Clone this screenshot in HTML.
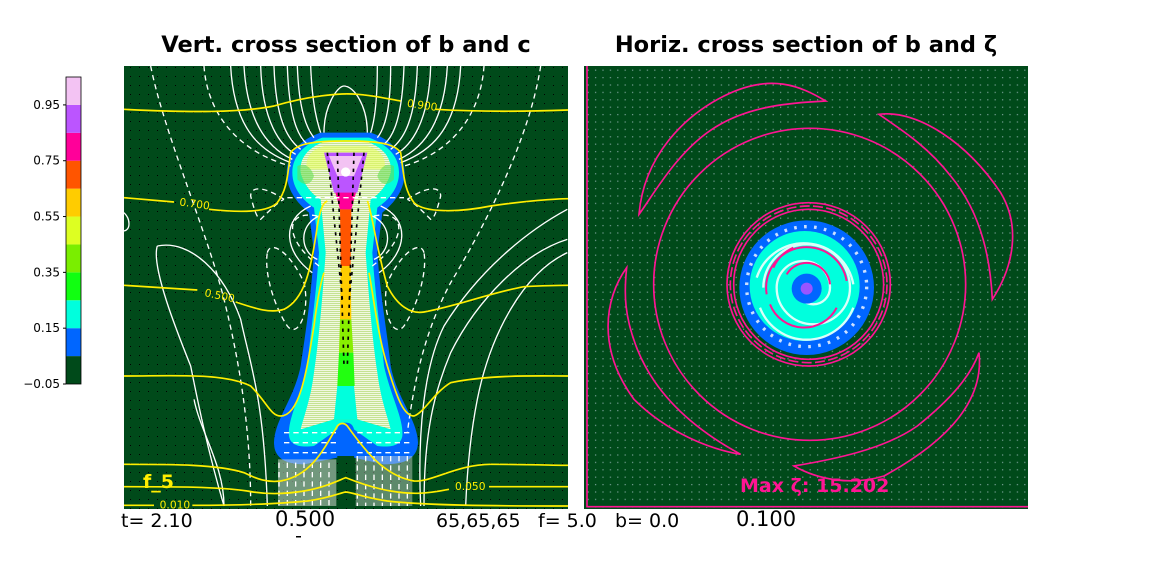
<!DOCTYPE html>
<html><head><meta charset="utf-8"><style>
html,body{margin:0;padding:0;background:#fff;width:1152px;height:576px;overflow:hidden}
svg{display:block}
text{font-family:"DejaVu Sans","Liberation Sans",sans-serif}
</style></head><body>
<svg id="fig" width="1152" height="576" viewBox="0 0 1152 576">
<defs>
<pattern id="dotsB" width="9" height="9" patternUnits="userSpaceOnUse"><rect x="4" y="4" width="1" height="1" fill="#000"/></pattern>
<pattern id="dotsW" width="7.4" height="7.4" patternUnits="userSpaceOnUse"><rect x="3" y="3" width="1.2" height="1.2" fill="#cde"/></pattern>
<pattern id="hatch" width="6" height="6" patternUnits="userSpaceOnUse"><rect width="6" height="6" fill="#f0f8e0"/><rect y="3" width="6" height="1.5" fill="#9c4"/></pattern>
<clipPath id="clipL"><rect x="124" y="66" width="444" height="443"/></clipPath>
<clipPath id="clipR"><rect x="584" y="66" width="444" height="443"/></clipPath>
</defs>
<text x="346" y="52" text-anchor="middle" font-size="22.5" font-weight="bold">Vert. cross section of b and c</text>
<text x="806" y="52" text-anchor="middle" font-size="22.5" font-weight="bold">Horiz. cross section of b and ζ</text>

<g id="colorbar"></g>

<g clip-path="url(#clipL)">
<rect x="124" y="66" width="444" height="443" fill="#004a1a"/>
<rect x="124" y="66" width="444" height="443" fill="url(#dotsB)"/>
<g transform="translate(124,66) scale(0.33333)">
<path fill="#0066ff" d="M665,200 L740,200 C800,220 840,260 842,320 C842,380 800,420 775,440 L760,560 C770,700 790,800 800,900 C820,1000 880,1060 882,1130 C880,1180 840,1195 780,1195 L690,1175 L690,1170 L640,1170 L640,1175 L540,1195 C490,1195 450,1180 450,1130 C452,1060 510,1000 530,900 C545,800 560,700 570,560 L555,440 C530,420 488,380 488,320 C490,260 530,220 590,200 Z"/>
<path fill="#00ffdd" d="M665,215 L735,215 C790,235 825,270 825,320 C825,370 790,405 760,425 L745,560 C755,700 770,800 780,900 C800,990 840,1060 835,1110 C830,1140 800,1145 760,1140 L690,1090 L640,1090 L570,1140 C530,1145 500,1140 495,1110 C490,1060 530,990 550,900 C560,800 575,700 585,560 L570,425 C540,405 505,370 505,320 C505,270 540,235 595,215 Z"/>
<path fill="url(#hatch)" d="M665,228 L730,228 C780,245 805,280 800,320 C790,360 760,390 740,400 L725,560 C735,700 745,820 760,920 C770,1000 790,1050 800,1090 L700,1060 L630,1060 L530,1090 C540,1050 560,1000 570,920 C585,820 595,700 605,560 L590,400 C570,390 540,360 530,320 C525,280 550,245 600,228 Z"/>
<path fill="#e8ff55" opacity="0.55" d="M600,240 L730,240 C770,250 790,280 780,310 L550,310 C540,280 560,250 600,240 Z"/>
<path fill="#66dd55" opacity="0.6" d="M520,300 C540,290 560,300 570,330 C560,360 540,360 520,340 Z M810,300 C790,290 770,300 760,330 C770,360 790,360 810,340 Z"/>
<path fill="#00ffdd" d="M640,960 L690,960 L700,1060 L630,1060 Z"/>
<path fill="#22ff10" d="M645,860 L688,860 L692,960 L640,960 Z"/>
<path fill="#88ee00" d="M648,760 L682,760 L688,860 L645,860 Z"/>
<path fill="#ffcc00" d="M650,600 L680,600 L682,760 L648,760 Z"/>
<path fill="#ff5500" d="M648,430 L682,430 L680,600 L650,600 Z"/>
<path fill="#ff0099" d="M620,330 L710,330 L682,430 L648,430 Z"/>
<path fill="#bb55ff" d="M600,260 L730,260 L700,380 L630,380 Z"/>
<path fill="#f3c3f3" d="M615,270 L715,270 L690,330 L640,330 Z"/>
<circle cx="665" cy="318" r="14" fill="#fff"/>
<path fill="#0066ff" d="M640,1170 L640,1090 C645,1070 660,1070 665,1070 C670,1070 685,1070 690,1090 L690,1170 Z"/>
<rect x="462" y="1180" width="175" height="140" fill="#cfd8cf" opacity="0.55"/>
<rect x="695" y="1170" width="170" height="150" fill="#cfd8cf" opacity="0.45"/>
<g stroke="#000" stroke-width="5" fill="none" stroke-dasharray="10 14">
<path d="M610,260 L655,700 M720,260 L676,700 M640,260 L660,900 M690,260 L670,900"/>
</g>
<g stroke="#fff" stroke-width="4" fill="none">
<path d="M320,0 C330,200 420,260 500,290"/><path d="M360,0 C370,180 440,250 505,280"/>
<path d="M410,0 C415,170 470,240 515,265"/><path d="M450,0 C455,160 490,220 530,250"/>
<path d="M490,0 C495,150 520,210 550,235"/><path d="M520,0 C525,140 550,190 570,215"/>
<path d="M1010,0 C1000,200 910,260 830,290"/><path d="M970,0 C960,180 890,250 825,280"/>
<path d="M920,0 C915,170 860,240 815,265"/><path d="M880,0 C875,160 840,220 800,250"/>
<path d="M840,0 C835,150 810,210 780,235"/><path d="M800,0 C800,140 780,190 760,215"/>
<path d="M760,0 C760,120 750,170 740,200"/><path d="M560,0 C565,120 580,170 590,200"/>
<path d="M600,200 C600,120 640,60 660,60 C690,60 730,120 730,200"/>
<path d="M585,450 C520,480 530,560 580,580"/><path d="M745,450 C810,480 800,560 750,580"/>
<path d="M560,420 C470,460 480,560 565,620"/><path d="M770,420 C860,460 850,560 765,620"/>
<path d="M100,540 C200,520 300,620 350,760 C380,900 420,1000 430,1320"/>
<path d="M100,540 C80,600 160,800 200,900 C220,1000 250,1150 300,1320"/>
<path d="M0,440 C20,460 20,490 0,495"/>
<path d="M1330,520 C1200,560 1060,700 980,860 C930,980 900,1100 900,1320"/>
<path d="M1330,430 C1200,500 1060,620 960,780 C900,900 880,1100 890,1320"/>
<path d="M1330,560 C1200,620 1100,800 1060,1000 C1040,1100 1030,1200 1025,1320"/>
<path d="M210,1000 C230,1100 300,1200 300,1320"/>
</g>
<g stroke="#fff" stroke-width="4" fill="none" stroke-dasharray="16 12">
<path d="M80,0 C120,200 250,500 300,700 C350,900 380,1100 380,1320"/>
<path d="M240,0 C250,150 350,260 500,300"/>
<path d="M1250,0 C1220,200 1100,450 980,650 C900,800 870,950 850,1100"/>
<path d="M1080,0 C1070,150 980,260 840,300"/>
<path d="M490,395 L840,395"/>
<path d="M480,400 C420,360 380,360 380,390 C390,430 400,460 410,460 C440,430 460,410 480,400"/>
<path d="M850,400 C910,360 950,360 950,390 C940,430 930,460 920,460 C890,430 870,410 850,400"/>
<path d="M580,450 C480,430 480,520 585,600"/><path d="M750,450 C850,430 850,520 745,600"/>
<path d="M430,560 C440,520 500,560 540,650 C560,740 520,820 490,780 C450,720 420,620 430,560"/>
<path d="M900,560 C890,520 830,560 790,650 C770,740 810,820 840,780 C880,720 910,620 900,560"/>
<path d="M465,1190 L465,1320 M490,1190 L490,1320 M515,1190 L515,1320 M540,1190 L540,1320 M565,1190 L565,1320 M590,1190 L590,1320 M615,1190 L615,1320"/>
<path d="M700,1170 L700,1320 M725,1170 L725,1320 M750,1170 L750,1320 M775,1170 L775,1320 M800,1170 L800,1320 M825,1170 L825,1320 M850,1170 L850,1320"/>
<path d="M480,1100 L640,1100 M480,1130 L640,1130 M480,1160 L640,1160 M700,1100 L860,1100 M700,1130 L860,1130 M700,1160 L860,1160"/>
</g>
<g stroke="#ffee00" stroke-width="5" fill="none">
<path d="M0,130 C200,140 350,140 450,120 C550,90 650,80 700,85 C760,90 800,100 830,105 M935,130 C1100,140 1250,135 1332,132"/>
<path d="M0,395 L150,408 M255,430 C350,440 430,440 460,410 C490,370 490,330 500,260 C520,230 580,225 665,225 C750,225 810,230 830,260 C840,330 840,370 870,410 C900,440 1000,440 1100,420 C1200,405 1300,398 1332,398"/>
<path d="M0,658 L220,672 M335,708 C400,730 440,742 480,730 C540,700 560,620 580,480 C590,420 600,410 610,405 M730,405 C740,420 760,560 790,660 C820,720 860,745 900,738 C1000,720 1100,680 1200,662 C1280,658 1320,658 1332,658"/>
<path d="M0,930 C150,930 300,920 380,960 C430,1010 440,1050 470,1050 C530,1050 550,900 570,780 C580,700 590,650 600,620 M735,620 C750,700 760,800 790,900 C820,1000 840,1050 870,1050 C900,1040 930,980 980,950 C1100,925 1250,930 1332,930"/>
<path d="M0,1195 C150,1195 280,1195 360,1220 C400,1240 430,1250 470,1245 C560,1230 600,1150 640,1080 C650,1070 660,1070 670,1080 C720,1150 780,1230 870,1245 C920,1250 1000,1195 1100,1195 C1200,1195 1300,1198 1332,1198"/>
<path d="M0,1262 C150,1262 280,1262 370,1275 C420,1285 480,1285 540,1275 C600,1265 640,1245 665,1235 C690,1245 740,1265 800,1275 C860,1285 900,1285 975,1270 M1095,1262 L1332,1262"/>
<path d="M0,1318 L90,1318 M205,1318 C350,1318 450,1315 550,1305 C620,1295 650,1280 665,1278 C690,1280 720,1295 790,1305 C900,1318 1100,1320 1332,1320"/>
</g>
<g fill="#ffee00" font-size="32">
<text x="848" y="122" transform="rotate(8 848 122)">0.900</text>
<text x="165" y="418" transform="rotate(8 165 418)">0.700</text>
<text x="240" y="690" transform="rotate(12 240 690)">0.500</text>
<text x="993" y="1272">0.050</text>
<text x="107" y="1328">0.010</text>
</g>
</g>
<text x="143" y="488" font-size="19" font-weight="bold" fill="#ffee00">f_5</text>
</g>

<g clip-path="url(#clipR)">
<rect x="584" y="66" width="444" height="443" fill="#004a1a"/>
<rect x="584" y="66" width="444" height="443" fill="url(#dotsW)" opacity="0.6"/>
<g transform="translate(584,66) scale(0.33333)">
<circle cx="668" cy="665" r="202" fill="#0066ff"/>
<circle cx="662" cy="660" r="165" fill="#00ffdd"/>
<circle cx="668" cy="662" r="180" fill="none" stroke="#fff" stroke-width="10" stroke-dasharray="8 22" opacity="0.8"/>
<g fill="none" stroke="#fff" stroke-width="7" opacity="0.85">
<path d="M668,665 m-130,0 a130,130 0 1,1 260,0 a110,110 0 1,1 -220,0 a80,80 0 1,1 160,0 a50,50 0 1,1 -100,0"/>
<path d="M668,665 m-150,-30 a150,150 0 0,1 290,20 M668,665 m140,60 a150,150 0 0,1 -280,0"/>
</g>
<g fill="none" stroke="#ff1493" stroke-width="6">
<path d="M668,665 m-120,20 a120,120 0 0,1 240,-40 M668,665 m90,60 a110,110 0 0,1 -200,-10 M668,665 m-60,-40 a70,70 0 0,1 130,30 M668,665 m-100,-60 a120,120 0 0,1 60,-60"/>
</g>
<circle cx="668" cy="668" r="45" fill="#0066ff"/>
<circle cx="668" cy="668" r="18" fill="#9955ff"/>
<g fill="none" stroke="#ff1493" stroke-width="5">
<circle cx="674" cy="655" r="245"/>
<circle cx="674" cy="655" r="235" stroke-dasharray="30 10"/>
<circle cx="674" cy="655" r="225"/>
<circle cx="677" cy="655" r="468"/>
<path d="M725,105 C650,60 560,20 420,90 C300,150 180,270 165,445 C200,400 280,250 400,180 C500,120 620,110 725,105 Z"/>
<path d="M885,145 C1000,130 1150,230 1250,380 C1310,480 1290,600 1225,700 C1220,600 1200,450 1100,330 C1030,240 950,190 885,145 Z"/>
<path d="M1185,860 C1200,1000 1100,1120 900,1230 C800,1260 700,1240 630,1200 C750,1180 900,1150 1000,1080 C1100,1000 1160,930 1185,860 Z"/>
<path d="M128,605 C60,700 40,850 150,1000 C250,1100 380,1150 470,1165 C350,1100 220,1000 160,850 C120,750 120,680 128,605 Z"/>
<path d="M9,0 L9,1322 L1332,1322"/>
</g>
</g>
<text x="740" y="492" font-size="19" font-weight="bold" fill="#ff1493">Max ζ: 15.202</text>
</g>

<g font-size="19" fill="#000">
<text x="121" y="527">t= 2.10</text>
<text x="275" y="526" font-size="21">0.500</text>
<text x="436" y="527">65,65,65</text>
<text x="538" y="527">f= 5.0</text>
<text x="615" y="527">b= 0.0</text>
<text x="736" y="526" font-size="21">0.100</text>
</g>
<rect x="296" y="536" width="5" height="1.5" fill="#000"/>
</svg>
<script>
const cbLevels = [-0.05, 0.05, 0.15, 0.25, 0.35, 0.45, 0.55, 0.65, 0.75, 0.85, 0.95, 1.05];
const cbColors = ["#004a1a","#0066ff","#00ffdd","#11ff11","#7aee00","#ddff22","#ffcc00","#ff5500","#ff0099","#bb55ff","#f3c3f3"];
const cbTicks = [-0.05, 0.15, 0.35, 0.55, 0.75, 0.95];
const cbTickLabels = ["\u22120.05","0.15","0.35","0.55","0.75","0.95"];
(function(){
  const ns="http://www.w3.org/2000/svg";
  const g=document.getElementById('colorbar');
  const x0=66,w=15,yTop=77,yBot=384;
  const lo=cbLevels[0],hi=cbLevels[cbLevels.length-1];
  const y=v=>yBot-(v-lo)/(hi-lo)*(yBot-yTop);
  for(let i=0;i<cbColors.length;i++){
    const r=document.createElementNS(ns,'rect');
    r.setAttribute('x',x0);r.setAttribute('width',w);
    r.setAttribute('y',y(cbLevels[i+1]));r.setAttribute('height',y(cbLevels[i])-y(cbLevels[i+1]));
    r.setAttribute('fill',cbColors[i]);
    
    
    g.appendChild(r);
  }
  const b=document.createElementNS(ns,'rect');
  b.setAttribute('x',x0);b.setAttribute('y',yTop);b.setAttribute('width',w);b.setAttribute('height',yBot-yTop);
  b.setAttribute('fill','none');b.setAttribute('stroke','#000');b.setAttribute('stroke-width','0.8');
  
  
  g.appendChild(b);
  cbTicks.forEach((v,i)=>{
    const l=document.createElementNS(ns,'line');
    l.setAttribute('x1',x0-3);l.setAttribute('x2',x0);l.setAttribute('y1',y(v));l.setAttribute('y2',y(v));
    l.setAttribute('stroke','#000');
    
    
    g.appendChild(l);
    const t=document.createElementNS(ns,'text');
    t.setAttribute('x',x0-6);t.setAttribute('y',y(v)+4);t.setAttribute('text-anchor','end');
    t.setAttribute('font-size','12');t.textContent=cbTickLabels[i];
    
    
    g.appendChild(t);
  });
})();
</script>
</body></html>
